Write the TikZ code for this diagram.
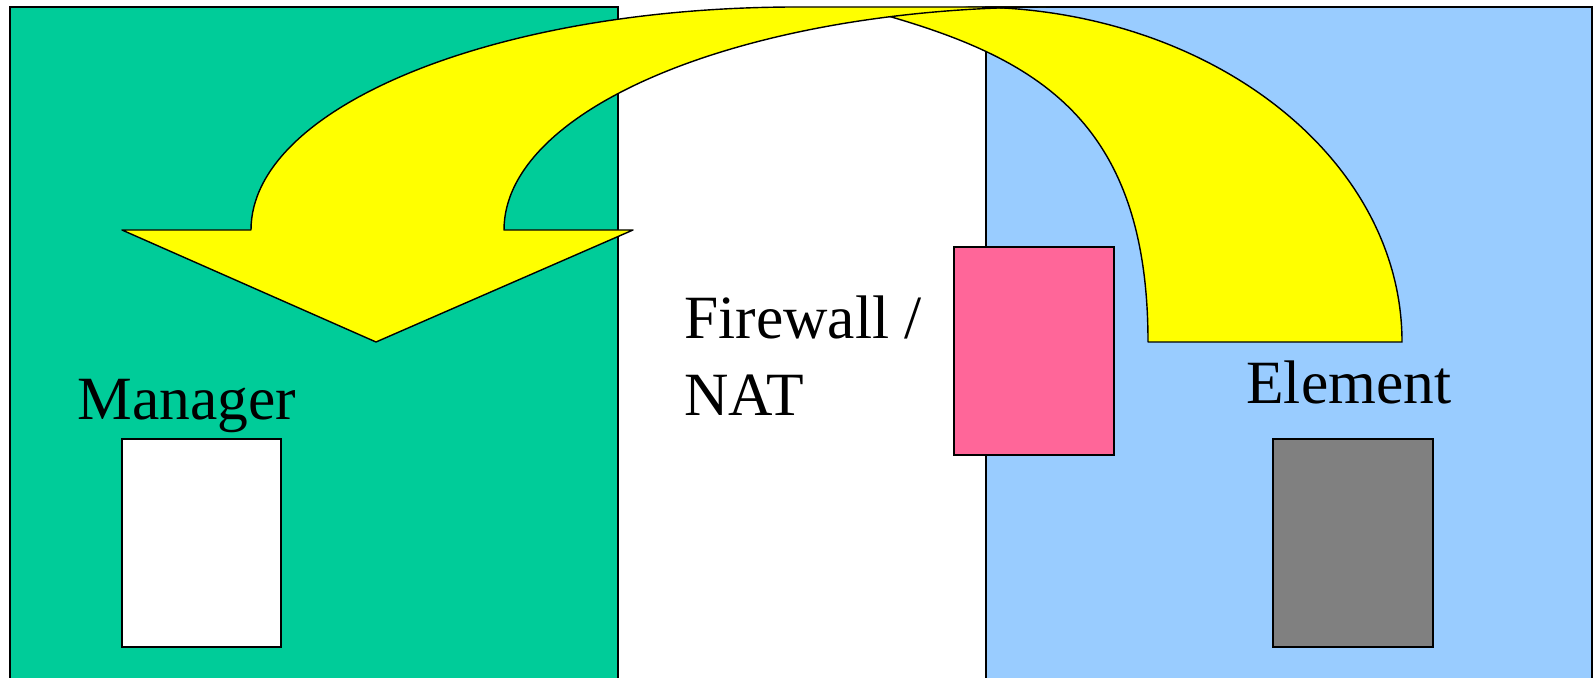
\documentclass[tikz,border=0pt]{standalone}
\usepackage{fontspec}
\setmainfont{Liberation Serif}
\definecolor{mgreen}{HTML}{00CC99}
\definecolor{eblue}{HTML}{99CCFF}
\definecolor{fwpink}{HTML}{FF6699}
\definecolor{ayellow}{HTML}{FFFF00}
\definecolor{egray}{HTML}{808080}
\begin{document}
\begin{tikzpicture}[x=0.02cm,y=-0.02cm,
  zone/.style={draw=black,line width=0.7pt},
  arrowpart/.style={draw=black,fill=ayellow,line width=0.8pt,line join=round},
  lbl/.style={inner sep=0pt,anchor=base west,font=\fontsize{35}{42}\selectfont}]
\useasboundingbox (0,0) rectangle (1594,678);
\clip (0,0) rectangle (1594,678);
\fill[white] (0,0) rectangle (1594,678);
% zones
\draw[zone,fill=mgreen] (10,7) rectangle (618,690);
\draw[zone,fill=eblue] (986,7) rectangle (1592,690);
% curved arrow: back band (tail)
\path[arrowpart] (1148,342) -- (1402,342)
  .. controls (1402,157) and (1208.6,7) .. (970,7)
  -- (888,16)
  .. controls (1038,59.5) and (1148,122) .. (1148,342) -- cycle;
% curved arrow: front band with head
\path[arrowpart] (251,230)
  .. controls (251,106.8) and (495.4,7) .. (797,7)
  -- (1050,7)
  .. controls (748.4,7) and (504,106.8) .. (504,230)
  -- (633,230) -- (376,342) -- (122,230) -- cycle;
% boxes
\draw[zone,fill=fwpink] (954,247) rectangle (1114,455);
\draw[zone,fill=white] (122,439) rectangle (281,647);
\draw[zone,fill=egray] (1273,439) rectangle (1433,647);
% labels
\node[lbl] (mgr) at (77,419) {Manager};
\node[lbl] (fw1) at (684,339) {Firewall /};
\node[lbl] (fw2) at (684,416) {NAT};
\node[lbl] (elem) at (1246,403) {Element};
\end{tikzpicture}
\end{document}
